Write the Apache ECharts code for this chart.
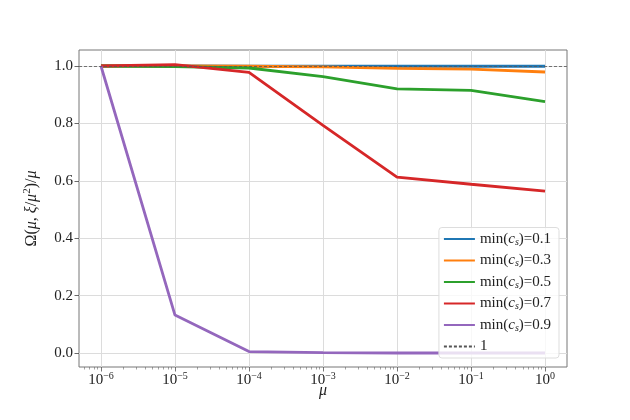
<!DOCTYPE html>
<html>
<head>
<meta charset="utf-8">
<script src="https://cdn.jsdelivr.net/npm/echarts@6/dist/echarts.min.js"></script>
<style>
  html, body { margin: 0; padding: 0; background: #fff; }
  #main { width: 630px; height: 420px; }
</style>
</head>
<body>
<div id="main"></div>
<script>
var mu = [1e-6, 1e-5, 1e-4, 1e-3, 1e-2, 1e-1, 1]
var s01 = [1.0, 1.0, 0.999, 0.999, 0.999, 0.999, 0.999]
var s03 = [1.0, 1.0, 0.999, 0.997, 0.992, 0.989, 0.979]
var s05 = [1.0, 0.998, 0.993, 0.963, 0.920, 0.915, 0.876]
var s07 = [1.0, 1.005, 0.978, 0.793, 0.613, 0.588, 0.564]
var s09 = [1.0, 0.132, 0.005, 0.001, 0.0, 0.0, 0.0]
var seriesNames = ['min(c_s)=0.1', 'min(c_s)=0.3', 'min(c_s)=0.5', 'min(c_s)=0.7', 'min(c_s)=0.9']
var xTicks = [1e-6, 1e-5, 1e-4, 1e-3, 1e-2, 1e-1, 1]
var yTicks = [0, 0.2, 0.4, 0.6, 0.8, 1.0]
var refLevel = 1

var colors = ['#1f77b4', '#ff7f0e', '#2ca02c', '#d62728', '#9467bd']
var font = 'Liberation Serif'

// minor ticks of the log axis, 2..9 x 10^k
var minorTicks = []
for (var k = -7; k <= 0; k++) {
  for (var m = 2; m <= 9; m++) {
    minorTicks.push(m * Math.pow(10, k))
  }
}

function pairs (ys) {
  return ys.map(function (y, i) { return [mu[i], y] })
}

function legendLabel (name) {
  if (name === '1') return '{r|1}'
  var val = name.split('=')[1]
  return '{r|min(}{it|c}{sub|s}{r|)=' + val + '}'
}

var chart = echarts.init(document.getElementById('main'), null, { renderer: 'canvas' })

var all = [s01, s03, s05, s07, s09]
var series = all.map(function (ys, i) {
  return {
    name: seriesNames[i],
    type: 'line',
    data: pairs(ys),
    symbol: 'none',
    showSymbol: false,
    color: colors[i],
    lineStyle: { width: 2.8, color: colors[i] },
    emphasis: { disabled: true },
    animation: false
  }
})
series.push({
  name: '1',
  type: 'line',
  data: [],
  symbol: 'none',
  color: '#555',
  lineStyle: { width: 0.8, type: [3, 2], color: '#555' },
  markLine: {
    silent: true,
    symbol: 'none',
    label: { show: false },
    lineStyle: { width: 0.8, type: [3, 2], color: '#555' },
    data: [{ yAxis: refLevel }],
    animation: false
  },
  z: 5,
  animation: false
})

chart.setOption({
  animation: false,
  textStyle: { fontFamily: font },
  grid: {
    left: 79,
    right: 63,
    top: 50,
    bottom: 53,
    show: true,
    borderColor: '#777',
    borderWidth: 1,
    backgroundColor: 'transparent'
  },
  legend: {
    orient: 'vertical',
    right: 71,
    bottom: 62,
    padding: [4, 8, 4, 4],
    itemWidth: 31,
    itemHeight: 14,
    itemGap: 6,
    backgroundColor: 'rgba(255,255,255,0.8)',
    borderColor: '#ddd',
    borderWidth: 1,
    borderRadius: 3,
    itemStyle: { opacity: 0 },
    data: seriesNames.concat(['1']),
    formatter: legendLabel,
    textStyle: {
      fontFamily: font,
      fontSize: 15,
      color: '#222',
      rich: {
        r: { fontFamily: font, fontSize: 15, color: '#222' },
        it: { fontFamily: font, fontStyle: 'italic', fontSize: 15, color: '#222' },
        sub: { fontFamily: font, fontStyle: 'italic', fontSize: 10, color: '#222', padding: [6, 0, 0, 0] }
      }
    }
  },
  xAxis: [
    {
      type: 'log',
      logBase: 10,
      min: 5.05e-7,
      max: 1.98,
      position: 'bottom',
      name: 'μ',
      nameLocation: 'middle',
      nameGap: 16,
      nameMoveOverlap: false,
      nameTextStyle: { fontFamily: font, fontStyle: 'italic', fontSize: 16, color: '#222' },
      axisLine: { show: false, onZero: false },
      axisTick: { show: true, customValues: xTicks, length: 4.5, lineStyle: { color: '#555', width: 0.8 } },
      axisLabel: {
        customValues: xTicks,
        margin: 4,
        formatter: function (v) {
          var e = Math.round(Math.log10(v))
          return '{b|10}{sup|' + (e < 0 ? '\u2212' + (-e) : e) + '}'
        },
        rich: {
          b: { fontFamily: font, fontSize: 15, color: '#222' },
          sup: { fontFamily: font, fontSize: 10, color: '#222', padding: [0, 0, 8, 0] }
        }
      },
      splitLine: { show: true, lineStyle: { color: '#dcdcdc', width: 1 } }
    },
    {
      type: 'log',
      logBase: 10,
      min: 5.05e-7,
      max: 1.98,
      position: 'bottom',
      axisLine: { show: false, onZero: false },
      axisLabel: { show: false },
      axisTick: { show: true, customValues: minorTicks, length: 2.5, lineStyle: { color: '#666', width: 0.6 } },
      splitLine: { show: false }
    }
  ],
  yAxis: {
    type: 'value',
    min: -0.0488,
    max: 1.0557,
    name: '{r|Ω(}{it|μ}{r|, }{it|ξ}{r|/}{it|μ}{sup|2}{r|)/}{it|μ}',
    nameLocation: 'middle',
    nameRotate: 90,
    nameGap: 38,
    nameMoveOverlap: false,
    nameTextStyle: {
      rich: {
        r: { fontFamily: font, fontSize: 16, color: '#222' },
        it: { fontFamily: font, fontStyle: 'italic', fontSize: 16, color: '#222' },
        sup: { fontFamily: font, fontSize: 11, color: '#222', padding: [0, 0, 8, 0] }
      }
    },
    axisLine: { show: false, onZero: false },
    axisTick: { show: true, customValues: yTicks, length: 4.5, lineStyle: { color: '#444', width: 0.8 } },
    axisLabel: {
      customValues: yTicks,
      margin: 6,
      fontFamily: font,
      fontSize: 15,
      color: '#222',
      formatter: function (v) { return v.toFixed(1) }
    },
    splitLine: { show: true, lineStyle: { color: '#dcdcdc', width: 1 } }
  },
  series: series
})
</script>
</body>
</html>
